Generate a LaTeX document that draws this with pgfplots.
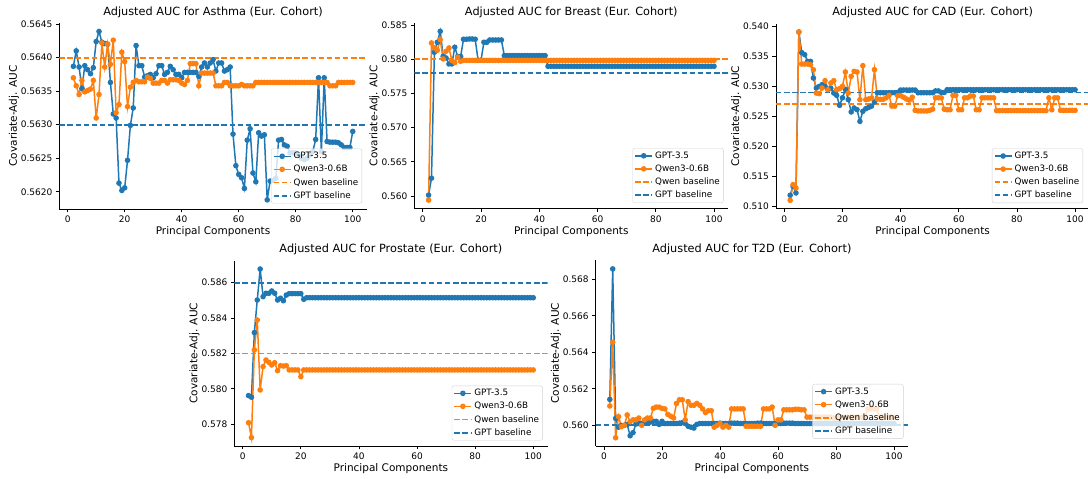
\documentclass[border=0pt]{standalone}
\usepackage{fontspec}
\setmainfont{DejaVu Sans}
\usepackage{pgfplots}
\usepackage{pgfplotstable}
\pgfplotsset{compat=1.18}
\definecolor{tblue}{HTML}{1F77B4}
\definecolor{torange}{HTML}{FF7F0E}

\pgfplotstableread{
x g q
2 0.56387 0.56370
3 0.56410 0.56358
4 0.56386 0.56345
5 0.56354 0.56366
6 0.56388 0.56349
7 0.56382 0.56351
8 0.56376 0.56353
9 0.56385 0.56366
10 0.56424 0.56310
11 0.56439 0.56345
12 0.56423 0.56422
13 0.56421 0.56386
14 0.56420 0.56420
15 0.56363 0.56390
16 0.56316 0.56426
17 0.56310 0.56318
18 0.56213 0.56330
19 0.56202 0.56408
20 0.56206 0.56394
21 0.56247 0.56327
22 0.56299 0.56356
23 0.56325 0.56363
24 0.56418 0.56366
25 0.56388 0.56364
26 0.56388 0.56364
27 0.56371 0.56364
28 0.56373 0.56371
29 0.56375 0.56369
30 0.56370 0.56362
31 0.56376 0.56362
32 0.56388 0.56362
33 0.56388 0.56366
34 0.56375 0.56366
35 0.56378 0.56362
36 0.56387 0.56367
37 0.56382 0.56367
38 0.56375 0.56367
39 0.56375 0.56366
40 0.56370 0.56362
41 0.56378 0.56360
42 0.56378 0.56366
43 0.56378 0.56391
44 0.56378 0.56391
45 0.56378 0.56391
46 0.56372 0.56358
47 0.56386 0.56377
48 0.56392 0.56377
49 0.56386 0.56377
50 0.56392 0.56377
51 0.56397 0.56377
52 0.56380 0.56358
53 0.56392 0.56358
54 0.56392 0.56358
55 0.56380 0.56363
56 0.56382 0.56363
57 0.56386 0.56358
58 0.56286 0.56358
59 0.56239 0.56358
60 0.56226 0.56358
61 0.56221 0.56360
62 0.56205 0.56358
63 0.56277 0.56358
64 0.56294 0.56358
65 0.56228 0.56358
66 0.56215 0.56363
67 0.56288 0.56363
68 0.56283 0.56363
69 0.56285 0.56363
70 0.56188 0.56363
71 0.56216 0.56363
72 0.56217 0.56363
73 0.56220 0.56363
74 0.56277 0.56363
75 0.56278 0.56363
76 0.56270 0.56363
77 0.56268 0.56363
78 0.56258 0.56363
79 0.56258 0.56363
80 0.56258 0.56363
81 0.56255 0.56363
82 0.56250 0.56363
83 0.56248 0.56363
84 0.56250 0.56363
85 0.56255 0.56363
86 0.56260 0.56363
87 0.56278 0.56363
88 0.56370 0.56363
89 0.56260 0.56363
90 0.56370 0.56363
91 0.56275 0.56363
92 0.56274 0.56358
93 0.56274 0.56358
94 0.56274 0.56358
95 0.56273 0.56363
96 0.56270 0.56363
97 0.56266 0.56363
98 0.56266 0.56363
99 0.56266 0.56363
100 0.56290 0.56363
}\asthma

\pgfplotstableread{
x g q
2 0.56012 0.55940
3 0.56260 0.58237
4 0.58101 0.58164
5 0.58247 0.58130
6 0.58407 0.58286
7 0.58042 0.58003
8 0.58018 0.58115
9 0.57930 0.58164
10 0.57930 0.57980
11 0.58174 0.57950
12 0.58040 0.58030
13 0.58040 0.57969
14 0.58291 0.57982
15 0.58291 0.57982
16 0.58295 0.57982
17 0.58295 0.57982
18 0.58291 0.57982
19 0.57985 0.57982
20 0.57985 0.57982
21 0.58247 0.57982
22 0.58247 0.57982
23 0.58280 0.57982
24 0.58280 0.57982
25 0.58280 0.57982
26 0.58280 0.57982
27 0.58280 0.57982
28 0.58052 0.57982
29 0.58052 0.57982
30 0.58052 0.57982
31 0.58052 0.57982
32 0.58052 0.57982
33 0.58052 0.57982
34 0.58052 0.57982
35 0.58052 0.57982
36 0.58052 0.57982
37 0.58052 0.57982
38 0.58052 0.57982
39 0.58052 0.57982
40 0.58052 0.57982
41 0.58052 0.57982
42 0.58052 0.57982
43 0.57896 0.57982
44 0.57896 0.57982
45 0.57896 0.57982
46 0.57896 0.57982
47 0.57896 0.57982
48 0.57896 0.57982
49 0.57896 0.57982
50 0.57896 0.57982
51 0.57896 0.57982
52 0.57896 0.57982
53 0.57896 0.57982
54 0.57896 0.57982
55 0.57896 0.57982
56 0.57896 0.57982
57 0.57896 0.57982
58 0.57896 0.57982
59 0.57896 0.57982
60 0.57896 0.57982
61 0.57896 0.57982
62 0.57896 0.57982
63 0.57896 0.57982
64 0.57896 0.57982
65 0.57896 0.57982
66 0.57896 0.57982
67 0.57896 0.57982
68 0.57896 0.57982
69 0.57896 0.57982
70 0.57896 0.57982
71 0.57896 0.57982
72 0.57896 0.57982
73 0.57896 0.57982
74 0.57896 0.57982
75 0.57896 0.57982
76 0.57896 0.57982
77 0.57896 0.57982
78 0.57896 0.57982
79 0.57896 0.57982
80 0.57896 0.57982
81 0.57896 0.57982
82 0.57896 0.57982
83 0.57896 0.57982
84 0.57896 0.57982
85 0.57896 0.57982
86 0.57896 0.57982
87 0.57896 0.57982
88 0.57896 0.57982
89 0.57896 0.57982
90 0.57896 0.57982
91 0.57896 0.57982
92 0.57896 0.57982
93 0.57896 0.57982
94 0.57896 0.57982
95 0.57896 0.57982
96 0.57896 0.57982
97 0.57896 0.57982
98 0.57896 0.57982
99 0.57896 0.57982
100 0.57896 0.57982
}\breast

\pgfplotstableread{
x g q
2 0.51179 0.51095
3 0.51329 0.51357
4 0.51218 0.51301
5 0.53911 0.53911
6 0.53565 0.53375
7 0.53532 0.53375
8 0.53420 0.53375
9 0.53420 0.53364
10 0.53141 0.53280
11 0.52974 0.52890
12 0.53000 0.52880
13 0.53030 0.52974
14 0.53000 0.53097
15 0.52946 0.52946
16 0.52970 0.53058
17 0.52890 0.53097
18 0.52850 0.52946
19 0.52684 0.52963
20 0.52810 0.53002
21 0.52950 0.53242
22 0.52780 0.52890
23 0.52573 0.53169
24 0.52640 0.53253
25 0.52612 0.53242
26 0.52416 0.52779
27 0.52584 0.53348
28 0.52628 0.52779
29 0.52650 0.52790
30 0.52670 0.52807
31 0.52740 0.53281
32 0.52895 0.52790
33 0.52895 0.52785
34 0.52895 0.52785
35 0.52895 0.52810
36 0.52895 0.52850
37 0.52895 0.52670
38 0.52895 0.52670
39 0.52900 0.52845
40 0.52940 0.52845
41 0.52940 0.52820
42 0.52940 0.52790
43 0.52940 0.52770
44 0.52940 0.52820
45 0.52940 0.52600
46 0.52895 0.52590
47 0.52895 0.52590
48 0.52895 0.52590
49 0.52895 0.52590
50 0.52895 0.52600
51 0.52895 0.52620
52 0.52925 0.52810
53 0.52925 0.52810
54 0.52900 0.52810
55 0.52900 0.52620
56 0.52945 0.52610
57 0.52945 0.52610
58 0.52945 0.52850
59 0.52945 0.52850
60 0.52945 0.52610
61 0.52945 0.52610
62 0.52945 0.52810
63 0.52945 0.52810
64 0.52945 0.52840
65 0.52945 0.52840
66 0.52945 0.52610
67 0.52945 0.52610
68 0.52945 0.52810
69 0.52945 0.52810
70 0.52945 0.52810
71 0.52945 0.52810
72 0.52945 0.52810
73 0.52945 0.52595
74 0.52945 0.52595
75 0.52945 0.52595
76 0.52945 0.52595
77 0.52945 0.52595
78 0.52945 0.52595
79 0.52945 0.52595
80 0.52945 0.52595
81 0.52945 0.52595
82 0.52945 0.52595
83 0.52945 0.52595
84 0.52945 0.52595
85 0.52945 0.52595
86 0.52945 0.52595
87 0.52945 0.52595
88 0.52945 0.52595
89 0.52945 0.52595
90 0.52945 0.52595
91 0.52945 0.52810
92 0.52945 0.52610
93 0.52945 0.52810
94 0.52945 0.52810
95 0.52945 0.52600
96 0.52945 0.52600
97 0.52945 0.52600
98 0.52945 0.52600
99 0.52945 0.52600
100 0.52945 0.52600
}\cad

\pgfplotstableread{
x g q
2 0.57962 0.57809
3 0.57953 0.57725
4 0.58318 0.58220
5 0.58502 0.58389
6 0.58677 0.57994
7 0.58521 0.58126
8 0.58540 0.58163
9 0.58540 0.58150
10 0.58553 0.58135
11 0.58540 0.58148
12 0.58502 0.58103
13 0.58512 0.58131
14 0.58498 0.58129
15 0.58530 0.58131
16 0.58538 0.58107
17 0.58538 0.58107
18 0.58538 0.58107
19 0.58538 0.58107
20 0.58538 0.58069
21 0.58506 0.58107
22 0.58515 0.58107
23 0.58515 0.58107
24 0.58515 0.58107
25 0.58515 0.58107
26 0.58515 0.58107
27 0.58515 0.58107
28 0.58515 0.58107
29 0.58515 0.58107
30 0.58515 0.58107
31 0.58515 0.58107
32 0.58515 0.58107
33 0.58515 0.58107
34 0.58515 0.58107
35 0.58515 0.58107
36 0.58515 0.58107
37 0.58515 0.58107
38 0.58515 0.58107
39 0.58515 0.58107
40 0.58515 0.58107
41 0.58515 0.58107
42 0.58515 0.58107
43 0.58515 0.58107
44 0.58515 0.58107
45 0.58515 0.58107
46 0.58515 0.58107
47 0.58515 0.58107
48 0.58515 0.58107
49 0.58515 0.58107
50 0.58515 0.58107
51 0.58515 0.58107
52 0.58515 0.58107
53 0.58515 0.58107
54 0.58515 0.58107
55 0.58515 0.58107
56 0.58515 0.58107
57 0.58515 0.58107
58 0.58515 0.58107
59 0.58515 0.58107
60 0.58515 0.58107
61 0.58515 0.58107
62 0.58515 0.58107
63 0.58515 0.58107
64 0.58515 0.58107
65 0.58515 0.58107
66 0.58515 0.58107
67 0.58515 0.58107
68 0.58515 0.58107
69 0.58515 0.58107
70 0.58515 0.58107
71 0.58515 0.58107
72 0.58515 0.58107
73 0.58515 0.58107
74 0.58515 0.58107
75 0.58515 0.58107
76 0.58515 0.58107
77 0.58515 0.58107
78 0.58515 0.58107
79 0.58515 0.58107
80 0.58515 0.58107
81 0.58515 0.58107
82 0.58515 0.58107
83 0.58515 0.58107
84 0.58515 0.58107
85 0.58515 0.58107
86 0.58515 0.58107
87 0.58515 0.58107
88 0.58515 0.58107
89 0.58515 0.58107
90 0.58515 0.58107
91 0.58515 0.58107
92 0.58515 0.58107
93 0.58515 0.58107
94 0.58515 0.58107
95 0.58515 0.58107
96 0.58515 0.58107
97 0.58515 0.58107
98 0.58515 0.58107
99 0.58515 0.58107
100 0.58515 0.58107
}\prostate

\pgfplotstableread{
x g q
2 0.56142 0.56106
3 0.56857 0.56455
4 0.56038 0.55932
5 0.55990 0.56048
6 0.56000 0.55993
7 0.56000 0.56000
8 0.56005 0.56057
9 0.55943 0.56020
10 0.55960 0.56030
11 0.56007 0.56030
12 0.56010 0.56040
13 0.56010 0.56000
14 0.56012 0.56030
15 0.56015 0.56040
16 0.56018 0.56040
17 0.56022 0.56093
18 0.56022 0.56100
19 0.56005 0.56100
20 0.56022 0.56093
21 0.56010 0.56090
22 0.56010 0.56060
23 0.56010 0.56050
24 0.56010 0.56040
25 0.56010 0.56120
26 0.56012 0.56140
27 0.56015 0.56140
28 0.56010 0.56030
29 0.55995 0.56130
30 0.55990 0.56110
31 0.55985 0.56110
32 0.56005 0.56120
33 0.56010 0.56110
34 0.56010 0.56090
35 0.56010 0.56070
36 0.56010 0.56080
37 0.56010 0.56080
38 0.56010 0.55990
39 0.56010 0.56000
40 0.56012 0.56010
41 0.56010 0.55990
42 0.56010 0.56000
43 0.56010 0.55990
44 0.56012 0.56090
45 0.56012 0.56090
46 0.56012 0.56090
47 0.56010 0.56090
48 0.56010 0.56090
49 0.56010 0.55995
50 0.56010 0.55995
51 0.56010 0.55995
52 0.56010 0.55995
53 0.56012 0.55995
54 0.56012 0.55995
55 0.56010 0.56090
56 0.56010 0.56090
57 0.56010 0.56090
58 0.56010 0.56100
59 0.56010 0.56000
60 0.56010 0.56030
61 0.56010 0.56030
62 0.56012 0.56085
63 0.56012 0.56085
64 0.56012 0.56085
65 0.56012 0.56085
66 0.56010 0.56088
67 0.56010 0.56088
68 0.56010 0.56085
69 0.56010 0.56085
70 0.56010 0.56045
71 0.56010 0.56045
72 0.56010 0.56045
73 0.56010 0.56045
74 0.56010 0.56045
75 0.56010 0.56045
76 0.56010 0.56045
77 0.56010 0.56045
78 0.56010 0.56045
79 0.56010 0.56040
80 0.56010 0.56040
81 0.56010 0.56045
82 0.56010 0.56045
83 0.56010 0.56045
84 0.56010 0.56045
85 0.56010 0.56045
86 0.56010 0.56045
87 0.56010 0.56045
88 0.56010 0.56045
89 0.56010 0.56045
90 0.56010 0.56045
91 0.56010 0.56090
92 0.56010 0.56090
93 0.56010 0.56090
94 0.56010 0.56090
95 0.56010 0.56045
96 0.56010 0.56045
97 0.56010 0.56045
98 0.56010 0.56045
99 0.56010 0.56045
100 0.56010 0.56045
}\ttwod

\pgfplotsset{
  panel/.style={
    scale only axis,
    anchor=south west,
    axis x line*=bottom,
    axis y line*=left,
    axis line style={line width=0.8pt,-},
    tick align=outside,
    major tick length=3.5pt,
    tick style={line width=0.8pt,black},
    xmin=-2.9, xmax=104.9,
    xtick={0,20,40,60,80,100},
    scaled y ticks=false,
    /pgf/number format/assume math mode=true,
    ticklabel style={font=\fontsize{9}{10}\selectfont},
    label style={font=\fontsize{10.5}{12}\selectfont},
    xlabel={Principal Components},
    ylabel={Covariate-Adj. AUC},
    xlabel style={yshift=3pt},
    ylabel style={yshift=-5pt},
    title style={font=\fontsize{11.3}{13}\selectfont,yshift=-4pt},
    legend cell align=left,
    legend style={at={(0.985,0.03)},anchor=south east,
      font=\fontsize{8.8}{10}\selectfont,
      draw=black!18, rounded corners=2pt, fill=white, fill opacity=0.8, text opacity=1,
      inner sep=1.5pt, row sep=1pt},
  },
  gptline/.style={color=tblue, line width=1.5pt, mark=*, mark size=2pt, mark options={solid,fill=tblue}},
  qwenline/.style={color=torange, line width=1.5pt, mark=*, mark size=2pt, mark options={solid,fill=torange}},
  qbase/.style={draw=torange, line width=1.8pt, dash pattern=on 5.5pt off 2.6pt},
  gbase/.style={draw=tblue, line width=1.8pt, dash pattern=on 5.5pt off 2.6pt},
}

\begin{document}
\begin{tikzpicture}[x=1pt,y=1pt]
\useasboundingbox (0,0) rectangle (1088,479);

% Asthma
\begin{axis}[panel, at={(59.4pt,270pt)}, width=307.3pt, height=186pt,
  ymin=0.561744, ymax=0.564516,
  ytick={0.562,0.5625,0.563,0.5635,0.564,0.5645},
  yticklabel style={/pgf/number format/.cd,fixed,fixed zerofill,precision=4},
  title={Adjusted AUC for Asthma (Eur. Cohort)}]
\addplot[gptline] table[x=x,y=g]{\asthma};
\addlegendentry{GPT-3.5}
\addplot[qwenline] table[x=x,y=q]{\asthma};
\addlegendentry{Qwen3-0.6B}
\addplot[qbase] coordinates {(-2.9,0.564) (104.9,0.564)};
\addlegendentry{Qwen baseline}
\addplot[gbase] coordinates {(-2.9,0.563) (104.9,0.563)};
\addlegendentry{GPT baseline}
\end{axis}

% Breast
\begin{axis}[panel, at={(414.3pt,270.5pt)}, width=314pt, height=185.6pt,
  ymin=0.55817, ymax=0.5853,
  ytick={0.56,0.565,0.57,0.575,0.58,0.585},
  yticklabel style={/pgf/number format/.cd,fixed,fixed zerofill,precision=3},
  title={Adjusted AUC for Breast (Eur. Cohort)}]
\addplot[gptline] table[x=x,y=g]{\breast};
\addlegendentry{GPT-3.5}
\addplot[qwenline] table[x=x,y=q]{\breast};
\addlegendentry{Qwen3-0.6B}
\addplot[qbase] coordinates {(-2.9,0.580) (104.9,0.580)};
\addlegendentry{Qwen baseline}
\addplot[gbase] coordinates {(-2.9,0.578) (104.9,0.578)};
\addlegendentry{GPT baseline}
\end{axis}

% CAD
\begin{axis}[panel, at={(775.9pt,270.3pt)}, width=313.4pt, height=185.1pt,
  ymin=0.50954, ymax=0.54052,
  ytick={0.51,0.515,0.52,0.525,0.53,0.535,0.54},
  yticklabel style={/pgf/number format/.cd,fixed,fixed zerofill,precision=3},
  legend style={at={(0.98,0.03)}},
  title={Adjusted AUC for CAD (Eur. Cohort)}]
\addplot[gptline] table[x=x,y=g]{\cad};
\addlegendentry{GPT-3.5}
\addplot[qwenline] table[x=x,y=q]{\cad};
\addlegendentry{Qwen3-0.6B}
\addplot[qbase] coordinates {(-2.9,0.527) (104.9,0.527)};
\addlegendentry{Qwen baseline}
\addplot[gbase] coordinates {(-2.9,0.529) (104.9,0.529)};
\addlegendentry{GPT baseline}
\end{axis}

% Prostate
\begin{axis}[panel, at={(234.3pt,33pt)}, width=313.2pt, height=185.4pt,
  ymin=0.576774, ymax=0.587246,
  ytick={0.578,0.58,0.582,0.584,0.586},
  yticklabel style={/pgf/number format/.cd,fixed,fixed zerofill,precision=3},
  title={Adjusted AUC for Prostate (Eur. Cohort)}]
\addplot[gptline] table[x=x,y=g]{\prostate};
\addlegendentry{GPT-3.5}
\addplot[qwenline] table[x=x,y=q]{\prostate};
\addlegendentry{Qwen3-0.6B}
\addplot[qbase] coordinates {(-2.9,0.582) (104.9,0.582)};
\addlegendentry{Qwen baseline}
\addplot[gbase] coordinates {(-2.9,0.586) (104.9,0.586)};
\addlegendentry{GPT baseline}
\end{axis}

% T2D
\begin{axis}[panel, at={(595.6pt,32.8pt)}, width=312.6pt, height=185.75pt,
  ymin=0.558857, ymax=0.569033,
  ytick={0.56,0.562,0.564,0.566,0.568},
  yticklabel style={/pgf/number format/.cd,fixed,fixed zerofill,precision=3},
  legend style={at={(0.985,0.04)}},
  title={Adjusted AUC for T2D (Eur. Cohort)}]
\addplot[gptline] table[x=x,y=g]{\ttwod};
\addlegendentry{GPT-3.5}
\addplot[qwenline] table[x=x,y=q]{\ttwod};
\addlegendentry{Qwen3-0.6B}
\addplot[qbase] coordinates {(-2.9,0.560) (104.9,0.560)};
\addlegendentry{Qwen baseline}
\addplot[gbase] coordinates {(-2.9,0.560) (104.9,0.560)};
\addlegendentry{GPT baseline}
\end{axis}
\end{tikzpicture}
\end{document}
